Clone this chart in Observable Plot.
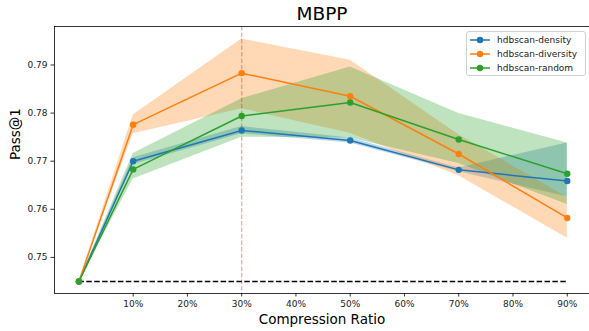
<!DOCTYPE html>
<html>
<head>
<meta charset="utf-8">
<script src="https://cdn.jsdelivr.net/npm/d3@7"></script>
<script src="https://cdn.jsdelivr.net/npm/@observablehq/plot@0.6"></script>
<style>
  html, body { margin: 0; padding: 0; background: #fff; }
  #wrap { position: relative; width: 589px; height: 331px; font-family: "DejaVu Sans", sans-serif; }
  #legend { position: absolute; left: 466px; top: 31px; width: 118px; height: 43px;
    border: 1px solid #d0d0d0; border-radius: 3px; background: rgba(255,255,255,0.8);
    font-size: 9px; color: #222; }
  .item { position: absolute; left: 0; height: 14px; display: flex; align-items: center; }
  .item svg { margin-left: 3px; margin-right: 7px; }
</style>
</head>
<body>
<div id="wrap"></div>
<script>
const ratios = [0, 10, 30, 50, 70, 90];
const seriesNames = ["hdbscan-density", "hdbscan-diversity", "hdbscan-random"];
const colors = ["#1f77b4", "#ff7f0e", "#2ca02c"];

const densityMean = [0.745, 0.7700, 0.7764, 0.7743, 0.7682, 0.7659];
const densityLow  = [0.745, 0.7693, 0.7757, 0.7738, 0.7678, 0.7626];
const densityHigh = [0.745, 0.7707, 0.7772, 0.7748, 0.7686, 0.7738];

const diversityMean = [0.745, 0.7776, 0.7883, 0.7835, 0.7715, 0.7582];
const diversityLow  = [0.745, 0.7757, 0.7809, 0.7758, 0.7670, 0.7540];
const diversityHigh = [0.745, 0.7796, 0.7954, 0.7910, 0.7755, 0.7625];

const randomMean = [0.745, 0.7683, 0.7794, 0.7822, 0.7745, 0.7674];
const randomLow  = [0.745, 0.7663, 0.7750, 0.7748, 0.7695, 0.7610];
const randomHigh = [0.745, 0.7716, 0.7830, 0.7896, 0.7799, 0.7738];

const baseline = 0.745;
const baselineSpan = [0, 90];
const highlightRatio = 30;
const xTicks = [10, 20, 30, 40, 50, 60, 70, 80, 90];
const yTicks = [0.75, 0.76, 0.77, 0.78, 0.79];
const xDomain = [-4.5, 94.1];
const yDomain = [0.7425, 0.798];

const means = [densityMean, diversityMean, randomMean];
const lows = [densityLow, diversityLow, randomLow];
const highs = [densityHigh, diversityHigh, randomHigh];

const rows = [];
seriesNames.forEach((name, s) => {
  ratios.forEach((r, i) => rows.push({series: name, x: r, y: means[s][i], lo: lows[s][i], hi: highs[s][i]}));
});

const marks = [];
seriesNames.forEach((name, s) => {
  const d = rows.filter(r => r.series === name);
  marks.push(Plot.areaY(d, {x: "x", y1: "lo", y2: "hi", fill: colors[s], fillOpacity: 0.3, curve: "linear"}));
});
marks.push(Plot.ruleX([highlightRatio], {stroke: "red", strokeOpacity: 0.35, strokeWidth: 1.3, strokeDasharray: "4.5,2"}));
marks.push(Plot.ruleY([baseline], {x1: baselineSpan[0], x2: baselineSpan[1], stroke: "black", strokeWidth: 1.5, strokeDasharray: "5.5,2.4"}));
seriesNames.forEach((name, s) => {
  const d = rows.filter(r => r.series === name);
  marks.push(Plot.line(d, {x: "x", y: "y", stroke: colors[s], strokeWidth: 1.5}));
  marks.push(Plot.dot(d, {x: "x", y: "y", fill: colors[s], r: 3.2, stroke: "none"}));
});
// spines
marks.push(Plot.ruleX([xDomain[0]], {stroke: "black", strokeWidth: 0.8}));
marks.push(Plot.ruleY([yDomain[0]], {stroke: "black", strokeWidth: 0.8}));
marks.push(Plot.ruleY([yDomain[1]], {stroke: "black", strokeWidth: 0.8}));
// axes
marks.push(Plot.axisX(xTicks, {tickFormat: d => d + "%", tickSize: 3.5, tickPadding: 3.5, fontSize: 9, label: null, stroke: "black", strokeWidth: 0.8}));
marks.push(Plot.axisY(yTicks, {tickFormat: d3.format(".2f"), tickSize: 3.5, tickPadding: 3.5, fontSize: 9, label: null, stroke: "black", strokeWidth: 0.8}));
// titles
marks.push(Plot.text(["MBPP"], {frameAnchor: "top", lineAnchor: "middle", dy: -12, fontSize: 18.5, fill: "black"}));
marks.push(Plot.text(["Compression Ratio"], {frameAnchor: "bottom", lineAnchor: "middle", dy: 26, fontSize: 13.5, fill: "black"}));
marks.push(Plot.text(["Pass@1"], {frameAnchor: "left", lineAnchor: "middle", dx: -39, rotate: -90, fontSize: 13.5, fill: "black"}));

const chart = Plot.plot({
  width: 589,
  height: 331,
  marginLeft: 54,
  marginRight: 0,
  marginTop: 26,
  marginBottom: 38,
  style: {fontFamily: "DejaVu Sans, sans-serif", color: "#222", background: "white", overflow: "visible"},
  x: {domain: xDomain},
  y: {domain: yDomain},
  marks
});

const wrap = document.getElementById("wrap");
wrap.appendChild(chart);

const legend = document.createElement("div");
legend.id = "legend";
seriesNames.forEach((name, s) => {
  const it = document.createElement("div");
  it.className = "item";
  it.style.top = (1 + s * 14) + "px";
  it.innerHTML = `<svg width="20" height="8"><line x1="0" x2="20" y1="4" y2="4" stroke="${colors[s]}" stroke-width="1.5"/><circle cx="10" cy="4" r="3.2" fill="${colors[s]}"/></svg><span>${name}</span>`;
  legend.appendChild(it);
});
wrap.appendChild(legend);
</script>
</body>
</html>
